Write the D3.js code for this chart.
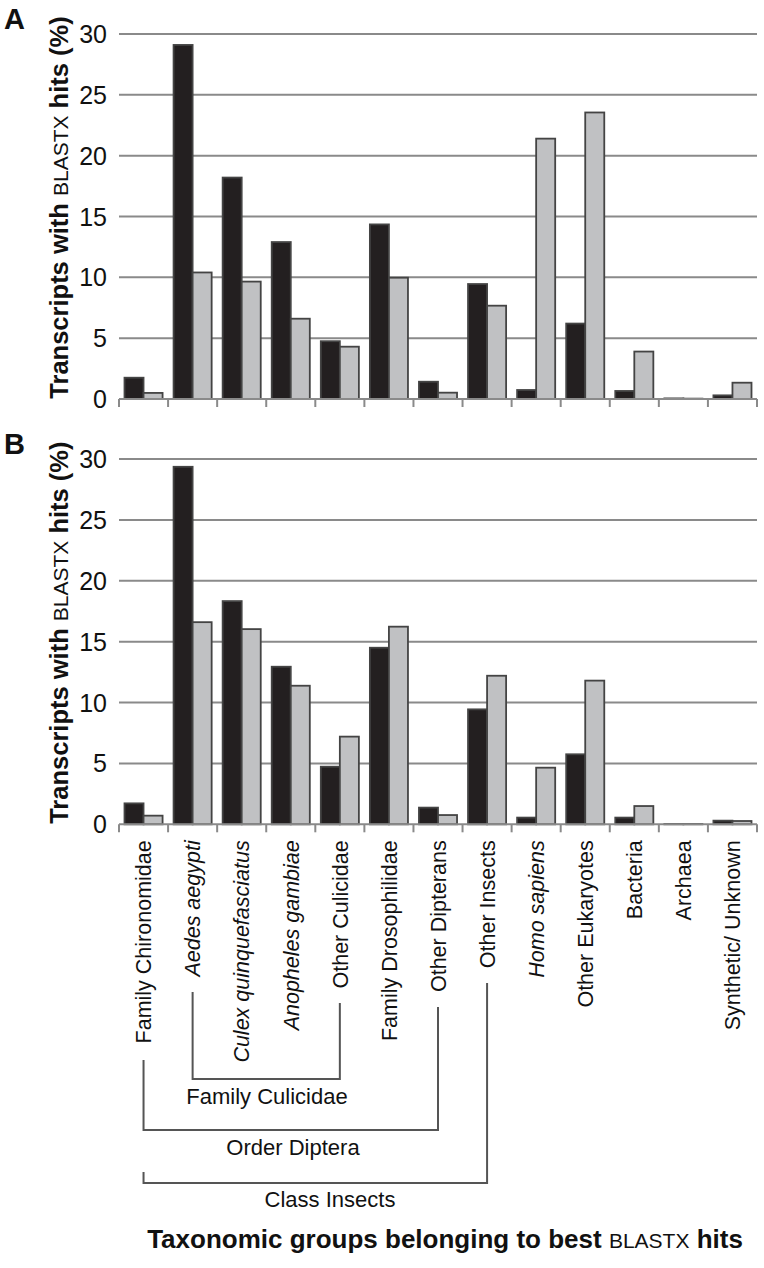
<!DOCTYPE html>
<html><head><meta charset="utf-8">
<script src="https://cdn.jsdelivr.net/npm/d3@7"></script>
<style>body{margin:0;background:#fff}svg{display:block}</style>
</head><body>
<svg id="c" width="764" height="1268"></svg>
<script>
const categories = ["Family Chironomidae","Aedes aegypti","Culex quinquefasciatus","Anopheles gambiae","Other Culicidae","Family Drosophilidae","Other Dipterans","Other Insects","Homo sapiens","Other Eukaryotes","Bacteria","Archaea","Synthetic/ Unknown"];
const italicCats = ["Aedes aegypti","Culex quinquefasciatus","Anopheles gambiae","Homo sapiens"];
const seriesNames = ["dark","light"];
const panelA_dark  = [1.75,29.1,18.2,12.9,4.75,14.35,1.42,9.45,0.74,6.2,0.66,0.05,0.3];
const panelA_light = [0.5,10.4,9.65,6.6,4.3,9.97,0.52,7.67,21.4,23.55,3.9,0.03,1.34];
const panelB_dark  = [1.72,29.36,18.33,12.94,4.73,14.5,1.37,9.44,0.55,5.75,0.55,0.03,0.3];
const panelB_light = [0.71,16.6,16.03,11.38,7.2,16.23,0.76,12.2,4.65,11.8,1.5,0.03,0.27];
const yTicks = [0,5,10,15,20,25,30];
const brackets = [
  {label:"Family Culicidae", from:"Aedes aegypti", to:"Other Culicidae"},
  {label:"Order Diptera", from:"Family Chironomidae", to:"Other Dipterans"},
  {label:"Class Insects", from:"Family Chironomidae", to:"Other Insects"}
];

const svg = d3.select("#c");
const FONT = "'Liberation Sans', Arial, sans-serif";
const NARROW = "'Liberation Sans Narrow', 'Liberation Sans', Arial, sans-serif";
const colors = {dark:"#231f20", light:"#c0c1c3"};
const x = d3.scaleBand().domain(categories).range([119,757]).padding(0);
const bw = x.bandwidth();
const xs = d3.scaleBand().domain(seriesNames).range([5.5, bw-5.5]).padding(0);

function panel(top, bottom, dark, light, letter, showLabels){
  const y = d3.scaleLinear().domain([0,30]).range([bottom, top]);
  const g = svg.append("g");
  g.selectAll("line.grid").data(yTicks.filter(t=>t>0)).join("line")
    .attr("x1",119).attr("x2",757).attr("y1",d=>y(d)).attr("y2",d=>y(d))
    .attr("stroke","#8a8a8a").attr("stroke-width",2);
  g.selectAll("text.yt").data(yTicks).join("text")
    .attr("x",107).attr("y",d=>y(d)).attr("dy","0.36em")
    .attr("text-anchor","end").attr("font-family",NARROW).attr("font-size",25)
    .attr("fill","#111").text(d=>d);
  const data = categories.map((c,i)=>({c, vals:[{s:"dark",v:dark[i]},{s:"light",v:light[i]}]}));
  const cg = g.selectAll("g.cat").data(data).join("g").attr("transform",d=>`translate(${x(d.c)},0)`);
  cg.selectAll("rect").data(d=>d.vals).join("rect")
    .attr("x",d=>xs(d.s)).attr("width",xs.bandwidth())
    .attr("y",d=>y(d.v)).attr("height",d=>Math.max(0,y(0)-y(d.v)))
    .attr("fill",d=>colors[d.s]).attr("stroke","#444").attr("stroke-width",1.8);
  g.append("line").attr("x1",119).attr("x2",757).attr("y1",y(0)).attr("y2",y(0))
    .attr("stroke","#8a8a8a").attr("stroke-width",2);
  const bounds = categories.map(c=>x(c)).concat([x.range()[1]]);
  g.selectAll("line.tk").data(bounds).join("line")
    .attr("x1",d=>d).attr("x2",d=>d).attr("y1",y(0)).attr("y2",y(0)+8)
    .attr("stroke","#8a8a8a").attr("stroke-width",2);
  const yt = g.append("text")
    .attr("transform",`translate(68,${(top+bottom)/2-9}) rotate(-90)`)
    .attr("text-anchor","middle").attr("font-family",FONT).attr("fill","#111");
  yt.append("tspan").attr("font-weight","bold").attr("font-size",25.5).text("Transcripts with ");
  yt.append("tspan").attr("font-size",21).text("BLASTX");
  yt.append("tspan").attr("font-weight","bold").attr("font-size",25.5).text(" hits (%)");
  g.append("text").attr("x",4).attr("y",top-5).attr("font-family",FONT).attr("font-weight","bold")
    .attr("font-size",29).attr("fill","#111").text(letter);
  if(showLabels){
    g.selectAll("text.cl").data(categories).join("text")
      .attr("transform",d=>`translate(${x(d)+bw/2},${y(0)+16}) rotate(-90)`)
      .attr("dy","0.36em").attr("text-anchor","end")
      .attr("font-family",FONT).attr("font-size",21.5).attr("fill","#111")
      .attr("font-style",d=>italicCats.includes(d)?"italic":"normal")
      .text(d=>d);
  }
}
panel(34, 399, panelA_dark, panelA_light, "A", false);
panel(459, 824.3, panelB_dark, panelB_light, "B", true);

const cx = c => x(c)+bw/2;
const bg = svg.append("g").attr("stroke","#555").attr("stroke-width",2).attr("fill","none");
bg.append("path").attr("d",`M${cx(brackets[0].from)},992V1079H${cx(brackets[0].to)}V1003`);
bg.append("path").attr("d",`M${cx(brackets[1].from)},1060V1130H${cx(brackets[1].to)}V1007`);
bg.append("path").attr("d",`M${cx(brackets[2].from)},1172V1183H${cx(brackets[2].to)}V983`);
const bl = [{t:brackets[0].label,x:267,y:1104},{t:brackets[1].label,x:293,y:1155},{t:brackets[2].label,x:330,y:1207}];
svg.selectAll("text.bl").data(bl).join("text").attr("x",d=>d.x).attr("y",d=>d.y)
  .attr("text-anchor","middle").attr("font-family",FONT).attr("font-size",22).attr("fill","#111").text(d=>d.t);

const xt = svg.append("text").attr("x",445).attr("y",1248).attr("text-anchor","middle")
  .attr("font-family",FONT).attr("fill","#111");
xt.append("tspan").attr("font-weight","bold").attr("font-size",26).text("Taxonomic groups belonging to best ");
xt.append("tspan").attr("font-size",21).text("BLASTX");
xt.append("tspan").attr("font-weight","bold").attr("font-size",26).text(" hits");
</script>
</body></html>
